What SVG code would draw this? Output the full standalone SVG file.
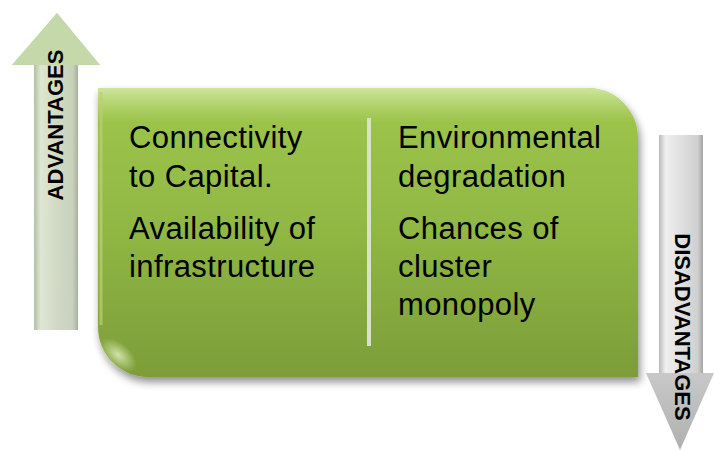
<svg xmlns="http://www.w3.org/2000/svg" width="714" height="450" viewBox="0 0 714 450">
<defs>
<style>
.t{font-family:"Liberation Sans",Arial,sans-serif;font-size:31px;letter-spacing:0.4px;fill:#000}
.lbl{font-family:"Liberation Sans",Arial,sans-serif;font-size:22px;font-weight:bold;fill:#000}
</style>
<linearGradient id="gBox" x1="0" y1="0" x2="0" y2="1">
<stop offset="0" stop-color="#9fc74c"/>
<stop offset="0.5" stop-color="#8fb743"/>
<stop offset="1" stop-color="#7c9d38"/>
</linearGradient>
<linearGradient id="gHi" x1="0" y1="0" x2="0" y2="1">
<stop offset="0" stop-color="#d4e8a8" stop-opacity="0.9"/>
<stop offset="0.12" stop-color="#c0dc88" stop-opacity="0"/>
</linearGradient>
<radialGradient id="gShine" cx="0.5" cy="0.5" r="0.5">
<stop offset="0" stop-color="#e4f2c4" stop-opacity="0.8"/>
<stop offset="1" stop-color="#e4f2c4" stop-opacity="0"/>
</radialGradient>
<linearGradient id="gUp" x1="0" y1="0" x2="0" y2="1">
<stop offset="0" stop-color="#c4d8a6"/>
<stop offset="0.45" stop-color="#cdd8bf"/>
<stop offset="1" stop-color="#d0d2cc"/>
</linearGradient>
<linearGradient id="gUpShaft" x1="0" y1="0" x2="1" y2="0">
<stop offset="0" stop-color="#a9b89a"/>
<stop offset="0.15" stop-color="#e4ecd8"/>
<stop offset="0.5" stop-color="#d2dcc4"/>
<stop offset="0.88" stop-color="#c6d0bb"/>
<stop offset="1" stop-color="#9aa690"/>
</linearGradient>
<linearGradient id="gDown" x1="0" y1="0" x2="1" y2="0">
<stop offset="0" stop-color="#b8b8b8"/>
<stop offset="0.15" stop-color="#f0f0f0"/>
<stop offset="0.5" stop-color="#e0e0e0"/>
<stop offset="0.88" stop-color="#cfcfcf"/>
<stop offset="1" stop-color="#a4a4a4"/>
</linearGradient>
<linearGradient id="gDownHead" x1="0" y1="0" x2="0" y2="1">
<stop offset="0" stop-color="#c8c8c8"/>
<stop offset="1" stop-color="#b0b0b0"/>
</linearGradient>
<filter id="shadow" x="-10%" y="-10%" width="125%" height="130%">
<feGaussianBlur in="SourceAlpha" stdDeviation="4"/>
<feOffset dx="2" dy="5" result="b"/>
<feComponentTransfer><feFuncA type="linear" slope="0.45"/></feComponentTransfer>
<feMerge><feMergeNode/><feMergeNode in="SourceGraphic"/></feMerge>
</filter>
</defs>

<g id="advantages-arrow">
<path d="M57 13 L100 65 L78 65 L78 330 L34 330 L34 65 L12 65 Z" fill="url(#gUp)"/>
<rect x="34" y="65" width="44" height="265" fill="url(#gUpShaft)" opacity="0.75"/>
<path d="M57 13 L100 65 L12 65 Z" fill="#c5d8a9"/>
<text class="lbl" transform="translate(63,125) rotate(-90)" text-anchor="middle">ADVANTAGES</text>
</g>

<g id="disadvantages-arrow">
<rect x="659" y="135" width="44" height="240" fill="url(#gDown)"/>
<path d="M646 373 L714 373 L680 450 Z" fill="url(#gDownHead)"/>
<text class="lbl" transform="translate(675,327) rotate(90)" text-anchor="middle">DISADVANTAGES</text>
</g>

<g id="main-box">
<path d="M98 88 L588 88 A50 50 0 0 1 638 138 L638 377 L148 377 A50 50 0 0 1 98 327 Z" fill="url(#gBox)" filter="url(#shadow)"/>
<path d="M98 88 L588 88 A50 50 0 0 1 638 138 L638 377 L148 377 A50 50 0 0 1 98 327 Z" fill="url(#gHi)"/>
<path d="M101 92 L101 325" stroke="#b6d474" stroke-width="3" opacity="0.7"/>
<ellipse cx="118" cy="355" rx="22" ry="12" transform="rotate(40 118 355)" fill="url(#gShine)"/>
<line x1="369" y1="118" x2="369" y2="346" stroke="#d9e2c9" stroke-width="4"/>
<text class="t" x="129" y="148">Connectivity</text>
<text class="t" x="129" y="187">to Capital.</text>
<text class="t" x="129" y="239">Availability of</text>
<text class="t" x="129" y="277">infrastructure</text>
<text class="t" x="398" y="148">Environmental</text>
<text class="t" x="398" y="187">degradation</text>
<text class="t" x="398" y="239">Chances of</text>
<text class="t" x="398" y="277">cluster</text>
<text class="t" x="398" y="315">monopoly</text>
</g>
</svg>
